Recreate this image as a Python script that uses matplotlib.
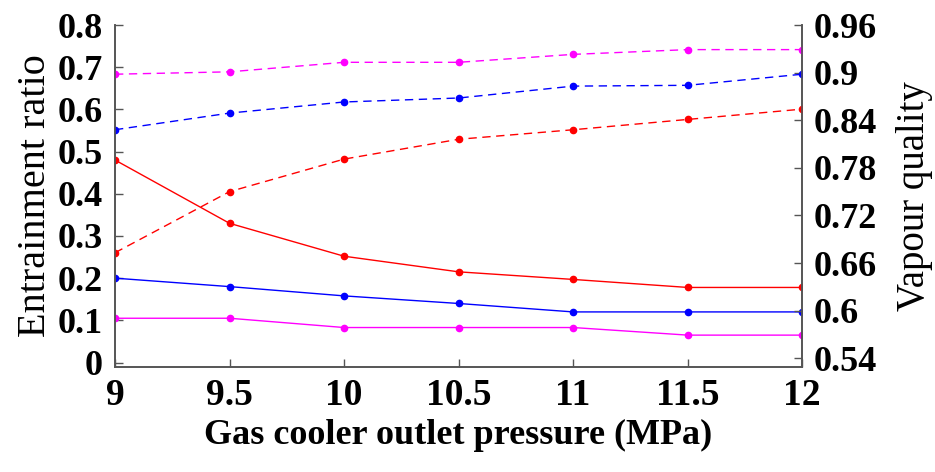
import matplotlib
matplotlib.use('Agg')
from matplotlib import pyplot as plt

# Gas cooler outlet pressure (MPa)
pressure = [9, 9.5, 10, 10.5, 11, 11.5, 12]

# Entrainment ratio (left axis, solid)
er_red = [0.48, 0.33, 0.252, 0.215, 0.197, 0.178, 0.178]
er_blue = [0.20, 0.18, 0.158, 0.140, 0.120, 0.120, 0.120]
er_magenta = [0.105, 0.105, 0.083, 0.083, 0.083, 0.065, 0.065]

# Vapour quality (right axis, dashed)
vq_red = [0.673, 0.750, 0.791, 0.816, 0.828, 0.841, 0.854]
vq_blue = [0.828, 0.849, 0.863, 0.868, 0.883, 0.884, 0.898]
vq_magenta = [0.898, 0.901, 0.913, 0.913, 0.923, 0.929, 0.929]

x_ticks = [9, 9.5, 10, 10.5, 11, 11.5, 12]
x_labels = ['9', '9.5', '10', '10.5', '11', '11.5', '12']
left_ticks = [0, 0.1, 0.2, 0.3, 0.4, 0.5, 0.6, 0.7, 0.8]
left_labels = ['0', '0.1', '0.2', '0.3', '0.4', '0.5', '0.6', '0.7', '0.8']
right_ticks = [0.54, 0.6, 0.66, 0.72, 0.78, 0.84, 0.9, 0.96]
right_labels = ['0.54', '0.6', '0.66', '0.72', '0.78', '0.84', '0.9', '0.96']

plt.rcParams['font.family'] = ['Liberation Serif', 'DejaVu Serif']
spine_col = '#555555'

fig = plt.figure(figsize=(9.35, 4.72), dpi=100)
ax = fig.add_axes([0.123, 0.2225, 0.735, 0.7245])
ax2 = ax.twinx()

mk = dict(marker='o', markersize=4.5, linewidth=1.0)
ax.plot(pressure, er_red, color='#ff0000', **mk)
ax.plot(pressure, er_blue, color='#0000ff', **mk)
ax.plot(pressure, er_magenta, color='#ff00ff', **mk)

dash = dict(marker='o', markersize=4.5, linewidth=1.0, dashes=(6, 4))
ax2.plot(pressure, vq_red, color='#ff0000', **dash)
ax2.plot(pressure, vq_blue, color='#0000ff', **dash)
ax2.plot(pressure, vq_magenta, color='#ff00ff', **dash)

ax.set_xlim(9, 12)
ax.set_ylim(-0.0105, 0.8)
ax2.set_ylim(0.529, 0.96)

ax.set_xticks(x_ticks)
ax.set_xticklabels(x_labels, fontsize=27, fontweight='bold')
ax.set_yticks(left_ticks)
ax.set_yticklabels(left_labels, fontsize=26, fontweight='bold')
ax2.set_yticks(right_ticks)
ax2.set_yticklabels(right_labels, fontsize=26, fontweight='bold')

for a in (ax, ax2):
    a.spines['top'].set_visible(False)
    for s in ('left', 'right', 'bottom'):
        a.spines[s].set_color(spine_col)
        a.spines[s].set_linewidth(1.2)
    a.tick_params(direction='in', length=6, width=1, color=spine_col)
ax.tick_params(axis='y', pad=9)
ax.tick_params(axis='x', pad=8)
ax2.tick_params(axis='y', pad=8)

ax.set_xlabel('Gas cooler outlet pressure (MPa)', fontsize=26, fontweight='bold', labelpad=4)
ax.set_ylabel('Entrainment ratio', fontsize=29, labelpad=2)
ax2.set_ylabel('Vapour quality', fontsize=28, labelpad=14)

fig.savefig('out.png', dpi=100)
